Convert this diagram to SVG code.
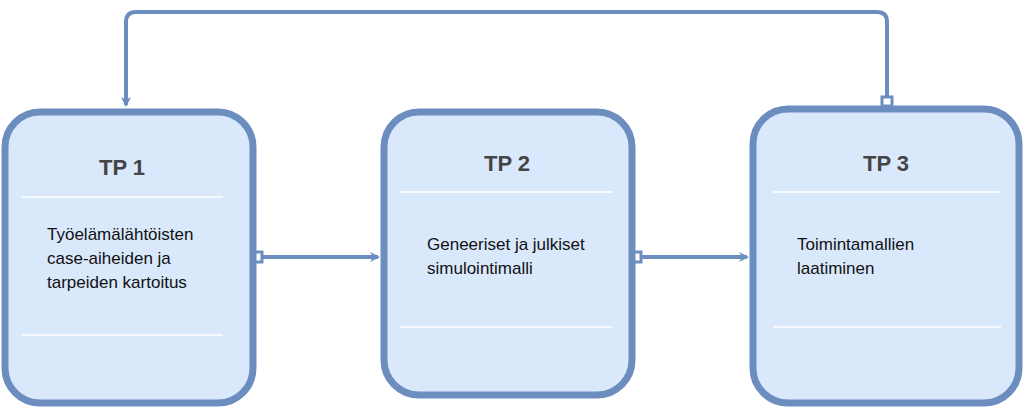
<svg xmlns="http://www.w3.org/2000/svg" width="1024" height="411" viewBox="0 0 1024 411">
<style>
.box{fill:#dae8fc;stroke:#6c8ebf;stroke-width:7}
.sep{stroke:#fff;stroke-width:1.5}
.h{font-family:"Liberation Sans",Arial,sans-serif;font-size:22px;font-weight:bold;fill:#444;text-anchor:middle}
.t{font-family:"Liberation Sans",Arial,sans-serif;font-size:17px;fill:#111}
.c{fill:none;stroke:#6c8ebf;stroke-width:4}
</style>
<defs>
<marker id="ar" markerWidth="10" markerHeight="10" refX="8" refY="5" orient="auto" markerUnits="userSpaceOnUse" viewBox="0 0 10 10"><path d="M0,0 L10,5 L0,10 L3,5 Z" fill="#6c8ebf" transform="scale(1)"/></marker>
</defs>
<g id="connectors">
<path class="c" d="M263,257 H378" marker-end="url(#ar)"/>
<path class="c" d="M642,257 H747" marker-end="url(#ar)"/>
<path class="c" d="M887,97 V22 Q887,12 877,12 H136 Q126,12 126,22 V105" marker-end="url(#ar)"/>
<rect x="253" y="252" width="9" height="10" fill="#fff" stroke="#6c8ebf" stroke-width="3"/>
<rect x="632" y="252" width="9" height="10" fill="#fff" stroke="#6c8ebf" stroke-width="3"/>
<rect x="882" y="97" width="10" height="9" fill="#fff" stroke="#6c8ebf" stroke-width="3"/>
</g>
<g id="tp1">
<rect class="box" x="5" y="112" width="248" height="291" rx="35"/>
<line class="sep" x1="22" y1="197" x2="223" y2="197"/>
<line class="sep" x1="22" y1="335" x2="223" y2="335"/>
<text class="h" x="122" y="175">TP 1</text>
<text class="t" x="47" y="240">Työelämälähtöisten</text>
<text class="t" x="47" y="264">case-aiheiden ja</text>
<text class="t" x="47" y="288">tarpeiden kartoitus</text>
</g>
<g id="tp2">
<rect class="box" x="384" y="112" width="248" height="283" rx="35"/>
<line class="sep" x1="400" y1="192" x2="612" y2="192"/>
<line class="sep" x1="400" y1="327" x2="612" y2="327"/>
<text class="h" x="507" y="171">TP 2</text>
<text class="t" x="427" y="250">Geneeriset ja julkiset</text>
<text class="t" x="427" y="274">simulointimalli</text>
</g>
<g id="tp3">
<rect class="box" x="753" y="109" width="266" height="294" rx="35"/>
<line class="sep" x1="773" y1="192" x2="1001" y2="192"/>
<line class="sep" x1="773" y1="327" x2="1001" y2="327"/>
<text class="h" x="886" y="171">TP 3</text>
<text class="t" x="797" y="250">Toimintamallien</text>
<text class="t" x="797" y="274">laatiminen</text>
</g>
</svg>
